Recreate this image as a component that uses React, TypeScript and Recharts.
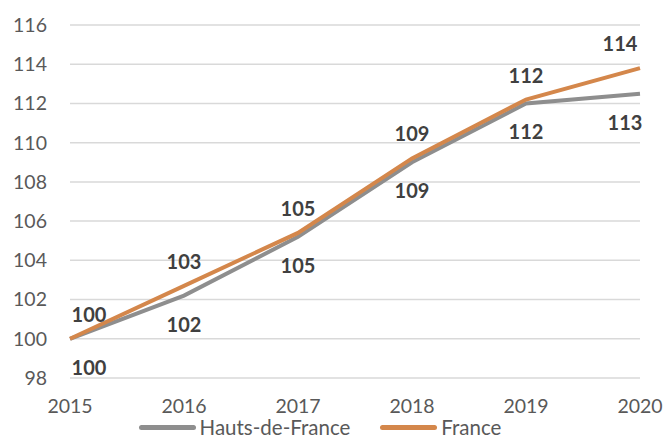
import React from "react";
import { LineChart, Line, XAxis, YAxis, CartesianGrid, Legend, LabelList } from "recharts";

const YEARS = ["2015", "2016", "2017", "2018", "2019", "2020"];
const HAUTS_DE_FRANCE = [100, 102.2, 105.2, 109.0, 112.0, 112.5];
const FRANCE = [100, 102.7, 105.4, 109.2, 112.2, 113.8];
const Y_TICKS = [98, 100, 102, 104, 106, 108, 110, 112, 114, 116];

const GRAY = "#8e8e8e";
const ORANGE = "#d4874b";
const FONT = "Lato, 'Open Sans', sans-serif";

const data = YEARS.map((year, i) => ({ year, hdf: HAUTS_DE_FRANCE[i], fr: FRANCE[i] }));

function makeLabel(above: boolean) {
  return function PointLabel(props: any) {
    const { x, y, value, index } = props;
    if (x == null || y == null) return null;
    let dx = 0;
    if (index === 0) dx = 19;
    if (index === data.length - 1) dx = above ? -20 : -15;
    return (
      <text
        x={x + dx}
        y={y + (above ? -25 : 28)}
        textAnchor="middle"
        dominantBaseline="central"
        fontFamily={FONT}
        fontWeight={700}
        fontSize={20}
        fill="#404040"
      >
        {Math.round(value)}
      </text>
    );
  };
}

function ChartLegend() {
  const items = [
    { name: "Hauts-de-France", color: GRAY },
    { name: "France", color: ORANGE },
  ];
  return (
    <div style={{ display: "flex", justifyContent: "center", height: 23, alignItems: "center" }}>
      {items.map((it, i) => (
        <div key={it.name} style={{ display: "flex", alignItems: "center", marginRight: i === 0 ? 30 : 0 }}>
          <div style={{ width: 57, height: 5, borderRadius: 3, background: it.color, marginRight: 4 }} />
          <span style={{ fontFamily: FONT, fontSize: 20.5, color: "#595959", lineHeight: "23px" }}>{it.name}</span>
        </div>
      ))}
    </div>
  );
}

export default function App() {
  return (
    <div style={{ position: "absolute", left: 0, top: 0, background: "#fff" }}>
      <LineChart width={666} height={439} data={data} margin={{ top: 25, right: 26, bottom: 0, left: 0 }}>
        <CartesianGrid vertical={false} stroke="#d9d9d9" strokeWidth={1.5} />
        <XAxis
          dataKey="year"
          axisLine={false}
          tickLine={false}
          tickSize={0}
          tickMargin={21}
          height={38}
          interval={0}
          tick={{ fontFamily: FONT, fontSize: 19.5, fill: "#595959" }}
        />
        <YAxis
          domain={[98, 116]}
          ticks={Y_TICKS}
          axisLine={false}
          tickLine={false}
          tickSize={0}
          tickMargin={23}
          width={70}
          tick={{ fontFamily: FONT, fontSize: 19.5, fill: "#595959" }}
        />
        <Legend verticalAlign="bottom" wrapperStyle={{ bottom: 0 }} content={() => <ChartLegend />} />
        <Line
          type="linear"
          dataKey="hdf"
          name="Hauts-de-France"
          stroke={GRAY}
          strokeWidth={4}
          dot={false}
          isAnimationActive={false}
        >
          <LabelList dataKey="hdf" content={makeLabel(false)} />
        </Line>
        <Line
          type="linear"
          dataKey="fr"
          name="France"
          stroke={ORANGE}
          strokeWidth={4}
          dot={false}
          isAnimationActive={false}
        >
          <LabelList dataKey="fr" content={makeLabel(true)} />
        </Line>
      </LineChart>
    </div>
  );
}
